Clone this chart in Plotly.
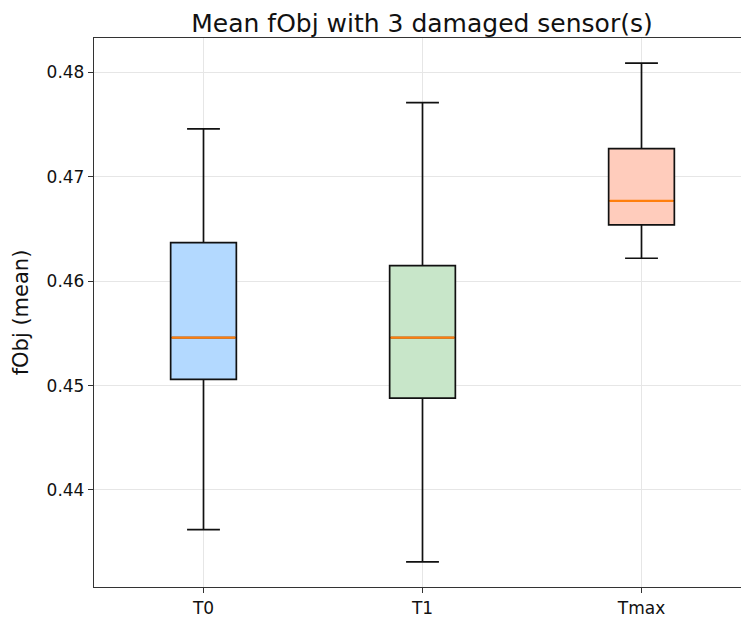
import plotly.graph_objects as go

# Data
categories = ["T0", "T1", "Tmax"]
positions = [1, 2, 3]
lower_whisker = [0.4362, 0.4331, 0.4622]
q1_values = [0.4506, 0.4488, 0.4654]
medians = [0.4546, 0.4546, 0.4677]
q3_values = [0.4637, 0.4615, 0.4727]
upper_whisker = [0.4746, 0.4771, 0.4809]
fill_colors = ["#b3d9ff", "#c8e6c9", "#ffccbc"]

BOX_W = 0.3

fig = go.Figure()
for i, cat in enumerate(categories):
    fig.add_trace(go.Box(
        x=[positions[i]],
        q1=[q1_values[i]], median=[medians[i]], q3=[q3_values[i]],
        lowerfence=[lower_whisker[i]], upperfence=[upper_whisker[i]],
        width=BOX_W, whiskerwidth=0.5,
        fillcolor=fill_colors[i],
        line=dict(color="#111111", width=1.7),
        name=cat, showlegend=False, boxpoints=False, hoverinfo="skip",
    ))
    # orange median drawn on top of the box's own median line
    fig.add_trace(go.Scatter(
        x=[positions[i] - BOX_W / 2 + 0.004, positions[i] + BOX_W / 2 - 0.004],
        y=[medians[i], medians[i]],
        mode="lines", line=dict(color="#ff7f0e", width=2.3),
        showlegend=False, hoverinfo="skip",
    ))

font_family = "DejaVu Sans, sans-serif"
fig.update_layout(
    width=741, height=618,
    margin=dict(l=94, r=0, t=38, b=31),
    paper_bgcolor="white", plot_bgcolor="white",
    font=dict(family=font_family, color="#111111", size=17),
    title=dict(text="Mean fObj with 3 damaged sensor(s)", x=(94 + 750) / 2 / 741,
               xanchor="center", y=1 - 23 / 618, yanchor="middle",
               font=dict(size=25, family=font_family, color="#111111")),
)
fig.update_xaxes(
    range=[0.5, 0.5 + 647 / 219], tickvals=positions, ticktext=categories,
    showgrid=True, gridcolor="#e6e6e6", gridwidth=1,
    showline=True, linecolor="#333333", linewidth=1.3, mirror=True,
    ticks="outside", ticklen=5, tickcolor="#333333", zeroline=False,
    tickfont=dict(size=17),
)
fig.update_yaxes(
    range=[0.4307, 0.4833], dtick=0.01, tick0=0.44, tickformat=".2f",
    showgrid=True, gridcolor="#e6e6e6", gridwidth=1,
    showline=True, linecolor="#333333", linewidth=1.3, mirror=False,
    ticks="outside", ticklen=5, tickcolor="#333333", zeroline=False,
    title=dict(text="fObj (mean)", font=dict(size=21), standoff=12),
    tickfont=dict(size=17),
)

fig.write_html("out.html")
